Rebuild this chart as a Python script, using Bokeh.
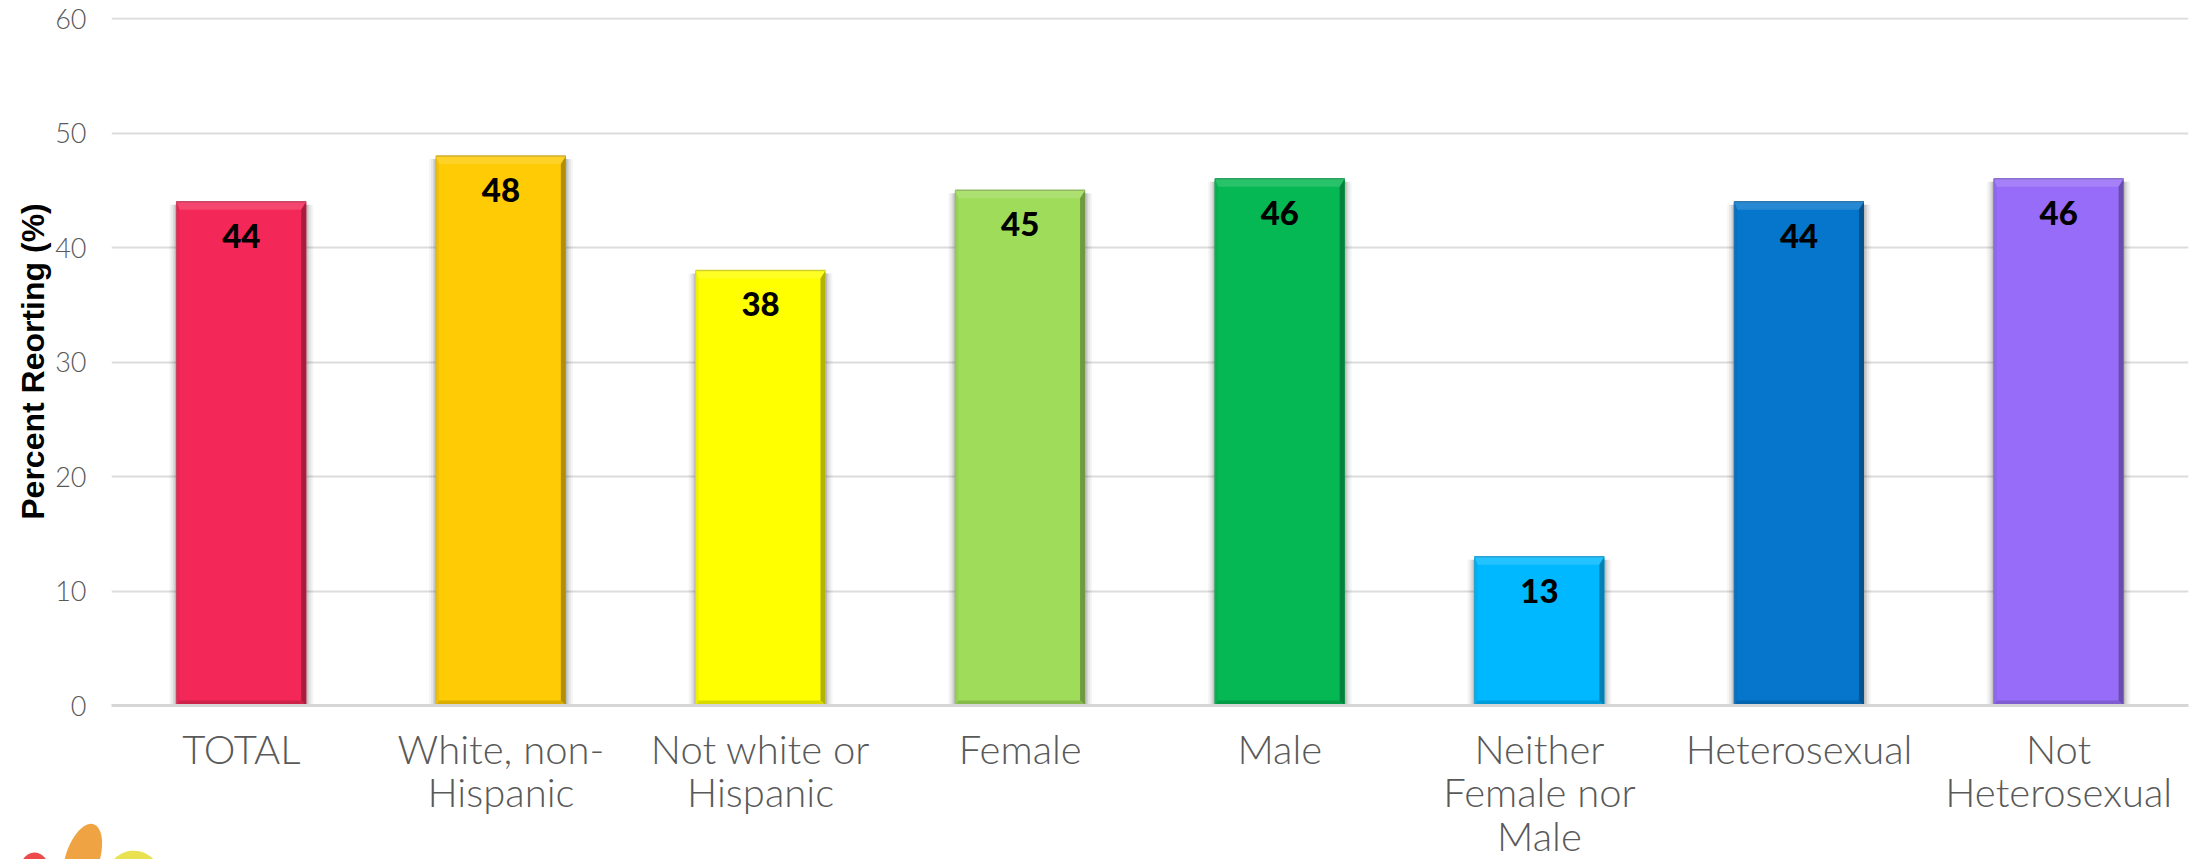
from bokeh.core.properties import value
from bokeh.embed import file_html
from bokeh.models import ColumnDataSource, FixedTicker, Range1d
from bokeh.plotting import figure
from bokeh.resources import INLINE
import math

categories = ["TOTAL", "White, non-\nHispanic", "Not white or\nHispanic", "Female", "Male",
              "Neither\nFemale nor\nMale", "Heterosexual", "Not\nHeterosexual"]
values = [44, 48, 38, 45, 46, 13, 44, 46]
colors = ["#F32858", "#FFCB05", "#FFFF00", "#9EDC5A", "#05B853", "#00B8FF", "#0576CC", "#966CF8"]
y_ticks = [0, 10, 20, 30, 40, 50, 60]

WIDTH, HEIGHT = 2198, 859
LEFT, RIGHT, TOP, AXIS_ROW = 111, 10, 17, 720
FRAME_W, FRAME_H = WIDTH - LEFT - RIGHT, 688
BAR_WIDTH = 0.5
PX_X = 8 / FRAME_W
PX_Y = 60 / (FRAME_H - 1)
BODY_FONT = "Lato Light"


def mix(hex_color, target, amount):
    rgb = [int(hex_color[i:i + 2], 16) for i in (1, 3, 5)]
    return "#" + "".join(f"{round(c + (target - c) * amount):02x}" for c in rgb)


# the range runs one pixel past 60 so that its grid line is still drawn
p = figure(width=WIDTH, height=AXIS_ROW, output_backend="svg", toolbar_location=None,
           x_range=Range1d(-0.5, 7.5), y_range=Range1d(0, 60 + PX_Y),
           min_border_left=LEFT, min_border_right=RIGHT, min_border_top=TOP,
           min_border_bottom=AXIS_ROW - TOP - FRAME_H,
           frame_width=FRAME_W, frame_height=FRAME_H, outline_line_color=None)
p.xgrid.visible = False
p.ygrid.ticker = FixedTicker(ticks=y_ticks[1:])
p.ygrid.grid_line_color = "#DCDCDC"
p.ygrid.grid_line_width = 2

xs = list(range(len(values)))
left = [x - BAR_WIDTH / 2 for x in xs]
right = [x + BAR_WIDTH / 2 for x in xs]

# soft drop shadow beside every bar
for spread, alpha in ((7, 0.05), (5, 0.07), (3, 0.1), (1.5, 0.14)):
    p.quad(left=[v - spread * PX_X for v in left], right=[v + spread * PX_X for v in right],
           bottom=0, top=[v - 3 * PX_Y for v in values],
           fill_color="#333333", fill_alpha=alpha, line_color=None)

p.quad(left=left, right=right, bottom=0, top=values, fill_color=colors, line_color=None)

# bevelled edges: top highlight, side shading, bottom shading
bx, by = 5 * PX_X, 8 * PX_Y
lx = 3 * PX_X
low = 5 * PX_Y
top_xs = [[l, r, r - bx, l + lx] for l, r in zip(left, right)]
top_ys = [[v, v, v - by, v - by] for v in values]
p.patches(top_xs, top_ys, fill_color=[mix(c, 255, 0.14) for c in colors], line_color=None)
right_xs = [[r, r, r - bx, r - bx] for r in right]
right_ys = [[v, 0, low, v - by] for v in values]
p.patches(right_xs, right_ys, fill_color=[mix(c, 0, 0.3) for c in colors], line_color=None)
left_xs = [[l, l, l + lx, l + lx] for l in left]
left_ys = [[v, 0, low, v - by] for v in values]
p.patches(left_xs, left_ys, fill_color=[mix(c, 0, 0.05) for c in colors], line_color=None)
bottom_xs = [[l, r, r - bx, l + lx] for l, r in zip(left, right)]
bottom_ys = [[0, 0, low, low] for _ in values]
p.patches(bottom_xs, bottom_ys, fill_color=[mix(c, 0, 0.15) for c in colors], line_color=None)

# thin rim along the top and left of each bar
p.segment(left, values, right, values, line_color=[mix(c, 120, 0.35) for c in colors], line_width=1.5)
p.segment(left, 0, left, values, line_color=[mix(c, 120, 0.3) for c in colors], line_width=1)

labels = ColumnDataSource(dict(x=xs, y=values, text=[str(v) for v in values]))
p.text("x", "y", "text", source=labels, text_align="center", text_baseline="middle", y_offset=34,
       text_font=value("Lato Black"), text_font_size="33px", text_color="#000000")

p.xaxis.ticker = FixedTicker(ticks=xs)
p.xaxis.major_label_overrides = {x: "" for x in xs}
p.xaxis.major_label_standoff = 0
p.xaxis.major_tick_line_color = None
p.xaxis.minor_tick_line_color = None
p.xaxis.axis_line_color = "#D6D6D6"
p.xaxis.axis_line_width = 3

p.yaxis.ticker = FixedTicker(ticks=y_ticks)
p.yaxis.major_label_text_font = BODY_FONT
p.yaxis.major_label_text_font_size = "27px"
p.yaxis.major_label_text_color = "#595959"
p.yaxis.major_label_standoff = 19
p.yaxis.major_tick_line_color = None
p.yaxis.minor_tick_line_color = None
p.yaxis.axis_line_color = None
p.yaxis.axis_label = "Percent Reorting (%)"
p.yaxis.axis_label_text_font = "Liberation Sans"
p.yaxis.axis_label_text_font_style = "bold"
p.yaxis.axis_label_text_font_size = "32px"
p.yaxis.axis_label_text_color = "#000000"
p.yaxis.axis_label_standoff = 1

# lower strip: category names on the same x scale, vertical axis in page pixels
strip = figure(width=WIDTH, height=HEIGHT - AXIS_ROW, output_backend="svg", toolbar_location=None,
               x_range=Range1d(-0.5 - LEFT * PX_X, 7.5 + RIGHT * PX_X), y_range=Range1d(HEIGHT, AXIS_ROW),
               min_border=0, outline_line_color=None, x_axis_type=None, y_axis_type=None)
strip.grid.visible = False
names = ColumnDataSource(dict(x=xs, y=[724] * len(xs), text=categories))
strip.text("x", "y", "text", source=names, text_align="center", text_baseline="top",
           text_font=value(BODY_FONT), text_font_size="40px", text_color="#595959", text_line_height=0.915)


def petal(cx, cy, rx, ry, angle_deg, n=48):
    a = math.radians(angle_deg)
    px, py = [], []
    for i in range(n):
        t = 2 * math.pi * i / n
        ex, ey = rx * math.cos(t), ry * math.sin(t)
        px.append((cx + ex * math.cos(a) - ey * math.sin(a) - LEFT) * PX_X - 0.5)
        py.append(cy + ex * math.sin(a) + ey * math.cos(a))
    return px, py


# corner of the logo peeking in at the bottom left
for spec, color in (((34, 874, 16, 22, 0), "#EC4A4C"),
                    ((82, 858, 17, 36, 18), "#EFA343"),
                    ((134, 880, 28, 30, -15), "#E9E150")):
    px, py = petal(*spec)
    strip.patch(px, py, fill_color=color, line_color=None)

open("out.html", "w").write(file_html([p, strip], INLINE))
